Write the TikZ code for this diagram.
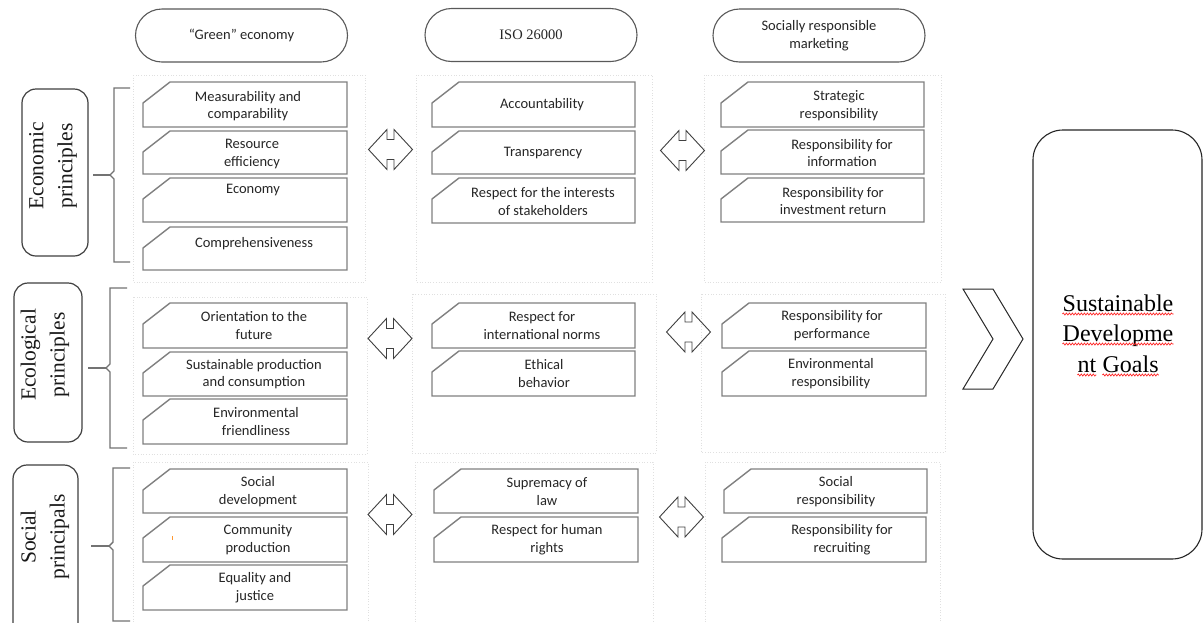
\documentclass[tikz,border=0pt]{standalone}
\usepackage{fontspec}
\setmainfont{Liberation Serif}
\newfontfamily\calibri{Carlito}
\usetikzlibrary{shapes.misc,decorations.pathmorphing}

\tikzset{
  boxline/.style={draw=black!50, line width=1.4pt, line join=miter},
  boxtext/.style={font=\calibri\fontsize{14.5}{17.5}\selectfont, text=black!85, align=center, inner sep=0pt},
  frame/.style={draw=black!12, dotted, line width=0.7pt},
  pill/.style={rounded rectangle, draw=black!65, line width=1.1pt, minimum width=212pt, minimum height=53pt, inner sep=0pt, align=center, font=\calibri\fontsize{14.5}{17.5}\selectfont, text=black!85},
  sidebox/.style={draw=black!75, line width=1.2pt, rounded corners=14pt},
  sidetext/.style={rotate=90, align=center, font=\fontsize{21.5}{29}\selectfont, text=black!90, inner sep=0pt},
  bracel/.style={draw=black!55, line width=1.4pt, line join=miter},
  arrowl/.style={draw=black!75, line width=0.9pt, line join=miter},
  sdgt/.style={font=\fontsize{24}{31}\selectfont, text=black, inner sep=0pt},
  squig/.style={draw=red!85, line width=0.7pt, decorate, decoration={snake, amplitude=1pt, segment length=3pt}},
  dblarrow/.pic={\draw[arrowl] (-22,0) -- (-3.5,-20) -- (-3.5,-10) -- (3.5,-10) -- (3.5,-20) -- (22,0) -- (3.5,20) -- (3.5,10) -- (-3.5,10) -- (-3.5,20) -- cycle;}
}

% name, x1, y1, x2, y2, text x, text y, text
\newcommand\cbox[8]{%
  \draw[boxline] (#2,#3+21) -- (#2+27,#3) -- (#4,#3) -- (#4,#5) -- (#2,#5) -- cycle;
  \node[boxtext] (#1) at (#6,#7) {#8};}

\begin{document}
\begin{tikzpicture}[x=1pt,y=-1pt]
\clip (0,0) rectangle (1203,622);
\fill[white] (0,0) rectangle (1203,622);

% headers
\node[pill] (h1) at (241.5,35.5) {“Green” economy};
\node[pill, font=\fontsize{14.5}{17.5}\selectfont] (h2) at (531,35) {ISO 26000};
\node[pill] (h3) at (819,35.5) {Socially responsible\\marketing};

% dotted frames
\draw[frame] (133,75) rectangle (365,282);
\draw[frame] (416,75) rectangle (652,282);
\draw[frame] (704,75) rectangle (941,282);
\draw[frame] (133,297) rectangle (367,454);
\draw[frame] (412,294) rectangle (656,453);
\draw[frame] (701,294) rectangle (945,452);
\draw[frame] (133,462) rectangle (368,640);
\draw[frame] (415,462) rectangle (653,640);
\draw[frame] (705,462) rectangle (940,640);

% side labels
\draw[sidebox] (22,89) rectangle (88,256);
\node[sidetext] (lab1) at (53,166) {Economic\\principles};
\draw[sidebox] (14,283) rectangle (82,442);
\node[sidetext] (lab2) at (45,355) {Ecological\\principles};
\draw[sidebox] (13,465) rectangle (78,660);
\node[sidetext] (lab3) at (45,537) {Social\\principals};

% braces
\draw[bracel] (130,88) -- (114,88) -- (114,171) -- (110,175) -- (114,179) -- (114,262) -- (130,262);
\draw[bracel] (93,175) -- (110,175);
\draw[bracel] (127,288) -- (110,288) -- (110,364) -- (106,368) -- (110,372) -- (110,448) -- (127,448);
\draw[bracel] (88,368) -- (106,368);
\draw[bracel] (130,468) -- (113,468) -- (113,542) -- (109,546) -- (113,550) -- (113,621) -- (130,621);
\draw[bracel] (91,546) -- (109,546);

% row 1, column 1
\cbox{a1}{143}{82}{347}{127}{248}{106}{Measurability and\\comparability}
\cbox{a2}{143}{131}{347}{174}{252}{154}{Resource\\efficiency}
\cbox{a3}{143}{178}{347}{222}{253}{190}{Economy}
\cbox{a4}{143}{227}{347}{270}{254}{244}{Comprehensiveness}
% row 1, column 2
\cbox{b1}{432}{82}{635}{127}{542}{105}{Accountability}
\cbox{b2}{432}{131}{635}{174}{543}{153}{Transparency}
\cbox{b3}{432}{178}{635}{223}{543}{201.5}{Respect for the interests\\of stakeholders}
% row 1, column 3
\cbox{c1}{721}{82}{924}{127}{839}{105.5}{Strategic\\responsibility}
\cbox{c2}{721}{130}{924}{174}{842}{153}{Responsibility for\\information}
\cbox{c3}{721}{178}{924}{222}{833}{201}{Responsibility for\\investment return}

% row 2
\cbox{d1}{143}{303}{347}{348}{254}{325.5}{Orientation to the\\future}
\cbox{d2}{143}{352}{347}{396}{254}{374}{Sustainable production\\and consumption}
\cbox{d3}{143}{399}{347}{444}{256}{421.5}{Environmental\\friendliness}
\cbox{e1}{432}{303}{635}{348}{542}{325.5}{Respect for\\international norms}
\cbox{e2}{432}{351}{635}{396}{544}{373.5}{Ethical\\behavior}
\cbox{f1}{722}{303}{926}{348}{832}{325.5}{Responsibility for\\performance}
\cbox{f2}{722}{351}{926}{396}{831}{373.5}{Environmental\\responsibility}

% row 3
\cbox{g1}{143}{469}{347}{513}{258}{491.5}{Social\\development}
\cbox{g2}{143}{517}{347}{562}{258}{539.5}{Community\\production}
\cbox{g3}{143}{565}{347}{610}{255}{587.5}{Equality and\\justice}
\cbox{h1b}{434}{469}{638}{513}{547}{491.5}{Supremacy of\\law}
\cbox{h2b}{434}{517}{638}{562}{547}{539.5}{Respect for human\\rights}
\cbox{k1}{724}{469}{927}{513}{836}{491.5}{Social\\responsibility}
\cbox{k2}{722}{517}{926}{562}{842}{539.5}{Responsibility for\\recruiting}
\fill[orange!80] (171.5,536) rectangle (172.6,540);

% double arrows
\pic at (390.5,149.5) {dblarrow};
\pic at (682.5,150.5) {dblarrow};
\pic at (390,338.5) {dblarrow};
\pic at (688.5,332) {dblarrow};
\pic at (390,514.5) {dblarrow};
\pic at (681.5,517) {dblarrow};

% chevron
\draw[black!85, line width=1pt, line join=miter] (963,289) -- (993,289) -- (1023,339) -- (993,389) -- (963,389) -- (993,339) -- cycle;

% goals box
\node[draw=black!85, line width=1.1pt, rounded corners=30pt, minimum width=169pt, minimum height=429pt, inner sep=0pt] (sdg) at (1117.5,344.5) {};
\node[sdgt, anchor=base] (s1) at (1118,311) {Sustainable};
\node[sdgt, anchor=base] (s2) at (1118,341) {Developme};
\node[sdgt, anchor=base east] (s3a) at (1096.4,372) {nt};
\node[sdgt, anchor=base west] (s3b) at (1102.4,372) {Goals};
\draw[squig] ([yshift=-3pt]s1.base west) -- ([yshift=-3pt]s1.base east);
\draw[squig] ([yshift=-3pt]s2.base west) -- ([yshift=-3pt]s2.base east);
\draw[squig] ([yshift=-3pt]s3a.base west) -- ([yshift=-3pt]s3a.base east);
\draw[squig] ([yshift=-3pt]s3b.base west) -- ([yshift=-3pt]s3b.base east);
\end{tikzpicture}
\end{document}
